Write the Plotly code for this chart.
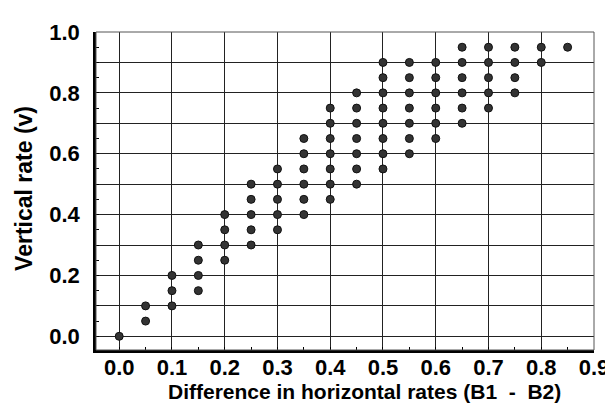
import plotly.graph_objects as go

# Data: horizontal-rate difference (x) and vertical rate (v) for each observed point
x_vals = [0.00,
          0.05, 0.05,
          0.10, 0.10, 0.10,
          0.15, 0.15, 0.15, 0.15,
          0.20, 0.20, 0.20, 0.20,
          0.25, 0.25, 0.25, 0.25, 0.25,
          0.30, 0.30, 0.30, 0.30, 0.30,
          0.35, 0.35, 0.35, 0.35, 0.35, 0.35,
          0.40, 0.40, 0.40, 0.40, 0.40, 0.40, 0.40,
          0.45, 0.45, 0.45, 0.45, 0.45, 0.45, 0.45,
          0.50, 0.50, 0.50, 0.50, 0.50, 0.50, 0.50, 0.50,
          0.55, 0.55, 0.55, 0.55, 0.55, 0.55, 0.55,
          0.60, 0.60, 0.60, 0.60, 0.60, 0.60,
          0.65, 0.65, 0.65, 0.65, 0.65, 0.65,
          0.70, 0.70, 0.70, 0.70, 0.70,
          0.75, 0.75, 0.75, 0.75,
          0.80, 0.80,
          0.85]
v_vals = [0.00,
          0.05, 0.10,
          0.10, 0.15, 0.20,
          0.15, 0.20, 0.25, 0.30,
          0.25, 0.30, 0.35, 0.40,
          0.30, 0.35, 0.40, 0.45, 0.50,
          0.35, 0.40, 0.45, 0.50, 0.55,
          0.40, 0.45, 0.50, 0.55, 0.60, 0.65,
          0.45, 0.50, 0.55, 0.60, 0.65, 0.70, 0.75,
          0.50, 0.55, 0.60, 0.65, 0.70, 0.75, 0.80,
          0.55, 0.60, 0.65, 0.70, 0.75, 0.80, 0.85, 0.90,
          0.60, 0.65, 0.70, 0.75, 0.80, 0.85, 0.90,
          0.65, 0.70, 0.75, 0.80, 0.85, 0.90,
          0.70, 0.75, 0.80, 0.85, 0.90, 0.95,
          0.75, 0.80, 0.85, 0.90, 0.95,
          0.80, 0.85, 0.90, 0.95,
          0.90, 0.95,
          0.95]

x_ticks = [0.0, 0.1, 0.2, 0.3, 0.4, 0.5, 0.6, 0.7, 0.8, 0.9]
x_ticktext = ["0.0", "0.1", "0.2", "0.3", "0.4", "0.5", "0.6", "0.7", "0.8", "0.9"]
y_ticks = [0.0, 0.1, 0.2, 0.3, 0.4, 0.5, 0.6, 0.7, 0.8, 0.9, 1.0]
y_ticktext = ["0.0", "", "0.2", "", "0.4", "", "0.6", "", "0.8", "", "1.0"]
x_title = "Difference in horizontal rates (B1\u00a0 -\u00a0 B2)"
y_title = "Vertical rate (v)"

FONT = "Liberation Sans, Arial, sans-serif"

fig = go.Figure()
fig.add_trace(go.Scatter(
    x=x_vals, y=v_vals, mode="markers",
    marker=dict(size=8, color="#333333", line=dict(color="#111111", width=1)),
    showlegend=False,
))

fig.update_layout(
    width=613, height=408,
    margin=dict(l=88, r=16, t=18, b=66),
    paper_bgcolor="white", plot_bgcolor="white",
    font=dict(family=FONT, color="black"),
    shapes=[dict(type="rect", xref="paper", yref="paper", x0=0, y0=0, x1=1, y1=1,
                 line=dict(color="#555555", width=1), layer="above")],
    annotations=[
        dict(text="<b>" + x_title + "</b>", xref="paper", yref="paper",
             x=0.54, y=-0.132, xanchor="center", yanchor="middle", showarrow=False,
             font=dict(family=FONT, size=21, color="black")),
        dict(text="<b>" + y_title + "</b>", xref="paper", yref="paper",
             x=-0.145, y=0.509, xanchor="center", yanchor="middle", showarrow=False,
             textangle=-90, font=dict(family=FONT, size=23, color="black")),
    ],
)

fig.update_xaxes(
    range=[-0.044, 0.9],
    tickvals=x_ticks, ticktext=x_ticktext,
    showgrid=True, gridcolor="#222222", gridwidth=1,
    zeroline=False,
    showline=True, linecolor="black", linewidth=2.5,
    ticks="inside", ticklen=3, tickcolor="black", tickwidth=1,
    minor=dict(dtick=0.05, tick0=0, ticks="inside", ticklen=3, tickcolor="black", showgrid=False),
    tickfont=dict(family=FONT, size=22, color="black", weight="bold"),
    ticklabelstandoff=-4,
)
fig.update_yaxes(
    range=[-0.045, 1.0],
    tickvals=y_ticks, ticktext=y_ticktext,
    showgrid=True, gridcolor="#222222", gridwidth=1,
    zeroline=False,
    showline=True, linecolor="black", linewidth=2.5,
    ticks="inside", ticklen=3, tickcolor="black", tickwidth=1,
    minor=dict(dtick=0.05, tick0=0, ticks="inside", ticklen=3, tickcolor="black", showgrid=False),
    tickfont=dict(family=FONT, size=22, color="black", weight="bold"),
    ticklabelstandoff=9,
)

fig.write_html("out.html")
